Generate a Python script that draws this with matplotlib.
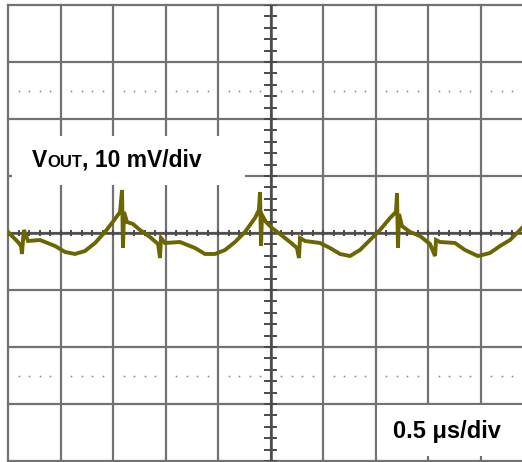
import matplotlib
matplotlib.use('Agg')
import matplotlib.pyplot as plt
import numpy as np
from matplotlib.patches import Rectangle

# VOUT ripple trace, time in us (0 = centre of screen), voltage in mV (0 = centre line)
t_us = [-2.500, -2.462, -2.405, -2.376, -2.367, -2.357, -2.348, -2.310, -2.195, -2.052,
        -1.957, -1.862, -1.767, -1.671, -1.576, -1.481, -1.433, -1.414, -1.405, -1.395,
        -1.367, -1.310, -1.243, -1.148, -1.071, -1.052, -1.043, -1.005, -0.862, -0.719,
        -0.624, -0.529, -0.433, -0.338, -0.243, -0.148, -0.110, -0.100, -0.090, -0.081,
        -0.043, 0.014, 0.090, 0.186, 0.252, 0.271, 0.281, 0.329, 0.471, 0.567,
        0.662, 0.757, 0.852, 0.948, 1.043, 1.138, 1.195, 1.205, 1.214, 1.224,
        1.252, 1.329, 1.424, 1.519, 1.567, 1.576, 1.614, 1.757, 1.852, 1.976,
        2.090, 2.186, 2.281, 2.395]
v_mv = [0.18, -0.53, -1.58, -2.28, -3.68, -1.23, 0.53, -1.40, -1.23, -2.28,
        -3.33, -3.68, -3.16, -1.75, 0.18, 2.46, 3.68, 7.54, -2.63, 3.68,
        1.93, 1.58, 0.53, -0.70, -1.93, -4.39, -0.88, -1.75, -1.58, -2.63,
        -3.68, -3.68, -2.98, -1.58, 0.18, 2.63, 4.04, 7.19, -2.28, 3.16,
        1.93, 0.88, -0.18, -1.58, -2.63, -4.39, -0.88, -1.40, -1.75, -2.63,
        -3.68, -4.04, -2.98, -1.23, 0.53, 2.63, 3.68, 7.02, -2.63, 3.33,
        1.23, 0.18, -0.53, -1.93, -4.04, -1.23, -1.58, -1.75, -2.98, -4.04,
        -3.51, -2.28, -1.23, 0.88]

volt_label = ['V', 'OUT', ', 10 mV/div']
time_label = '0.5 \u03bcs/div'

W, H = 522, 462
fig = plt.figure(figsize=(W / 100, H / 100), dpi=100)
fig.patch.set_facecolor('white')


def fx(px):
    return px / W


def fy(py):
    return 1 - py / H


ax = fig.add_axes([fx(8), fy(461), fx(522) - fx(8), fy(5) - fy(461)])
ax.set_xlim(-2.5, (522 - 270.5) / 105)
ax.set_ylim(-40, 40)
ax.axis('off')

grid_c = '#727272'
# graticule: 0.5 us/div horizontally, 10 mV/div vertically
for t in np.arange(-2.5, 2.4, 0.5):
    ax.axvline(t, color=grid_c, lw=1.6, clip_on=False, zorder=1)
for v in np.arange(-40, 41, 10):
    ax.axhline(v, color=grid_c, lw=1.6, clip_on=False, zorder=1)

# centre axes with minor ticks
ax.axvline(0, color='#4a4a4a', lw=1.8, zorder=2)
ax.axhline(0, color='#4a4a4a', lw=1.8, zorder=2)
minor_t = np.arange(-2.5, 2.45, 0.1)
ax.vlines(minor_t, -0.55, 0.55, color='#4a4a4a', lw=1.4, zorder=2)
minor_v = np.arange(-40, 41, 2)
ax.hlines(minor_v, -0.058, 0.058, color='#4a4a4a', lw=1.4, zorder=2)

# dotted 10% / 90% marker lines
dot_t = [t for t in minor_t if abs(t / 0.5 - round(t / 0.5)) > 1e-6]
for v in (25, -25):
    ax.plot(dot_t, [v] * len(dot_t), ls='none', marker='o', ms=1.3,
            color='#8a8a8a', mec='none', zorder=2)

ax.plot(t_us, v_mv, color='#6b6600', lw=2.8, solid_joinstyle='miter', zorder=3)

# label boxes
fig.patches.append(Rectangle((fx(12), fy(185)), fx(245) - fx(12), fy(136) - fy(185),
                             transform=fig.transFigure, facecolor='white',
                             edgecolor='none', zorder=5))
fig.patches.append(Rectangle((fx(377), fy(456)), fx(522) - fx(377), fy(405) - fy(456),
                             transform=fig.transFigure, facecolor='white',
                             edgecolor='none', zorder=5))

fp = dict(family='Liberation Sans', weight='bold', color='black', va='baseline', zorder=6)
sizes = [16.5, 12, 16.5]
fig.canvas.draw()
r = fig.canvas.get_renderer()
x = fx(32)
for txt, sz in zip(volt_label, sizes):
    tx = fig.text(x, fy(167), txt, fontsize=sz, **fp)
    x = tx.get_window_extent(r).x1 / W
fig.text(fx(393), fy(438), time_label, fontsize=17, **fp)

fig.savefig('out.png', dpi=100)
